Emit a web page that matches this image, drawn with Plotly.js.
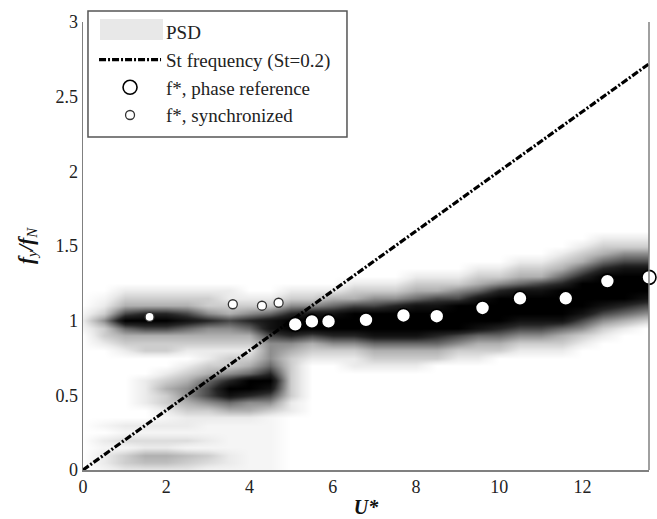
<!DOCTYPE html>
<html>
<head>
<meta charset="utf-8">
<script src="https://cdn.plot.ly/plotly-3.0.1.min.js"></script>
<style>html,body{margin:0;padding:0;background:#fff;}#chart{width:657px;height:519px;}</style>
</head>
<body>
<div id="chart"></div>
<script>
// PSD grid (U* columns, fy/fN rows), intensity 0 (none) .. 9 (max)
const psdU = [0,0.5,1,1.5,2,2.5,3,3.5,4,4.5,5,5.5,6,6.5,7,7.5,8,8.5,9,9.5,10,10.5,11,11.5,12,12.5,13,13.5];
const psdF = [0,0.05,0.1,0.15,0.2,0.25,0.3,0.35,0.4,0.45,0.5,0.55,0.6,0.65,0.7,0.75,0.8,0.85,0.9,0.95,1.0,1.05,1.1,1.15,1.2,1.25,1.3,1.35,1.4,1.45,1.5,1.55,1.6];
const psdZ = [
 [0,0.5,1,1,1,1,0.5,0.5,0.5,0.5, 0,0,0,0,0,0,0,0,0,0, 0,0,0,0,0,0,0,0],
 [0,1,2,2.5,2.5,2,1.5,1,0.5,0.5, 0,0,0,0,0,0,0,0,0,0, 0,0,0,0,0,0,0,0],
 [0,1,2,3,3,2.5,2,1,0.5,0.5, 0,0,0,0,0,0,0,0,0,0, 0,0,0,0,0,0,0,0],
 [0,0.5,0.5,1,1,0.5,0.5,0.5,0.5,0.5, 0,0,0,0,0,0,0,0,0,0, 0,0,0,0,0,0,0,0],
 [0,1,1.5,1.5,1.5,1.5,1,0.5,0.5,0.5, 0,0,0,0,0,0,0,0,0,0, 0,0,0,0,0,0,0,0],
 [0,0,0.5,0.5,0.5,0.5,0.5,0.5,0.5,0.5, 0,0,0,0,0,0,0,0,0,0, 0,0,0,0,0,0,0,0],
 [0,0.5,1,1,1,1,0.5,0.5,0.5,0.5, 0,0,0,0,0,0,0,0,0,0, 0,0,0,0,0,0,0,0],
 [0,0,0,0,0.5,1,1,1,1,0.5, 0,0,0,0,0,0,0,0,0,0, 0,0,0,0,0,0,0,0],
 [0,0,0,0,1,2,2,3,3,2, 1,0,0,0,0,0,0,0,0,0, 0,0,0,0,0,0,0,0],
 [0,0,0,1,2,3,4,5,4,4, 1,0,0,0,0,0,0,0,0,0, 0,0,0,0,0,0,0,0],
 [0,0,0,1,2,4,6,8,7,6, 2,0,0,0,0,0,0,0,0,0, 0,0,0,0,0,0,0,0],
 [0,0,0,1,3,4,6,9,9,8, 2,0,0,0,0,0,0,0,0,0, 0,0,0,0,0,0,0,0],
 [0,0,0,1,2,3,5,7,9,9, 2,0,0,0,0,0,0,0,0,0, 0,0,0,0,0,0,0,0],
 [0,0,0,0,1,2,3,4,5,7, 2,0,0,0,0,0,0,0,0,0, 0,0,0,0,0,0,0,0],
 [0,0,0,0,0,1,2,2,3,5, 2,0,0,1,1,1,1,0,0,0, 0,0,0,0,0,0,0,0],
 [0,0,0,0,0,0,1,2,2,4, 2,1,1,1,2,2,2,2,1,1, 0,0,0,0,0,0,0,0],
 [0,0,1,2,2,1,1,1,1,4, 3,2,2,2,3,3,3,3,2,2, 2,1,1,1,0,0,0,0],
 [0,1,2,2,2,2,2,2,2,4, 4,3,4,4,5,5,5,5,4,3, 3,2,2,2,1,0,0,0],
 [0,2,3,3,3,3,3,3,3,6, 7,6,7,7,8,8,8,7,6,5, 5,4,4,3,2,1,0,0],
 [0.5,2,5,6,6,5,4,4,5,8, 9,9,9,9,9,9,9,9,9,8, 7,6,6,5,4,2,1,0],
 [1,4,9,9,9,8,7,6,7,8, 9,9,9,9,9,9,9,9,9,9, 9,8,8,8,6,4,3,2],
 [0.5,2,6,7,7,6,4,3,4,5, 7,8,8,9,9,9,9,9,9,9, 9,9,9,9,8,6,5,4],
 [0,1,3,3,3,3,2,2,2,2, 4,4,5,6,6,7,8,8,9,9, 9,9,9,9,9,8,7,6],
 [0,0.5,2,2,2,2,2,1,1,1, 2,2,3,3,4,4,5,6,6,8, 9,9,9,9,9,9,9,8],
 [0,0,1,1,1,1,1,1,0,0, 1,1,1,2,2,2,3,3,4,5, 7,8,8,9,9,9,9,9],
 [0,0,0,0,0,0,0,0,0,0, 0,0,0,1,1,1,2,2,2,3, 4,5,6,7,9,9,9,9],
 [0,0,0,0,0,0,0,0,0,0, 0,0,0,0,0,0,1,1,1,2, 2,3,3,5,7,9,9,9],
 [0,0,0,0,0,0,0,0,0,0, 0,0,0,0,0,0,0,0,0,1, 1,2,2,3,5,7,8,8],
 [0,0,0,0,0,0,0,0,0,0, 0,0,0,0,0,0,0,0,0,0, 0,1,1,2,3,5,6,6],
 [0,0,0,0,0,0,0,0,0,0, 0,0,0,0,0,0,0,0,0,0, 0,0,0,1,2,3,4,4],
 [0,0,0,0,0,0,0,0,0,0, 0,0,0,0,0,0,0,0,0,0, 0,0,0,0,1,2,2,2],
 [0,0,0,0,0,0,0,0,0,0, 0,0,0,0,0,0,0,0,0,0, 0,0,0,0,0,1,1,1],
 [0,0,0,0,0,0,0,0,0,0, 0,0,0,0,0,0,0,0,0,0, 0,0,0,0,0,0,0,0]
];
// Strouhal line
const stU = [0, 13.6];
const stF = [0, 2.72];
// f*, phase reference
const refU = [5.1, 5.5, 5.9, 6.8, 7.7, 8.5, 9.6, 10.5, 11.6, 12.6, 13.6];
const refF = [0.975, 0.995, 0.995, 1.005, 1.035, 1.03, 1.085, 1.15, 1.15, 1.265, 1.29];
// f*, synchronized
const syncU = [1.6, 3.6, 4.3, 4.7];
const syncF = [1.025, 1.11, 1.10, 1.12];

const serif = '"Liberation Serif", "Times New Roman", serif';

const traces = [
  {type:'heatmap', x: psdU, y: psdF, z: psdZ, zsmooth:'best', zmin:0, zmax:9,
   colorscale:[[0,'#ffffff'],[0.111,'#ebebeb'],[0.333,'#b0b0b0'],[0.556,'#6a6a6a'],[0.778,'#252525'],[1,'#000000']],
   showscale:false, hoverinfo:'skip', showlegend:false},
  {type:'scatter', mode:'lines', x:[null], y:[null], name:'PSD',
   line:{color:'rgba(0,0,0,0)', width:1}},
  {type:'scatter', mode:'lines', x: stU, y: stF, name:'St frequency (St=0.2)',
   line:{color:'#000000', width:3.2, dash:'7px,2px,2px,2px'}},
  {type:'scatter', mode:'markers', x: refU, y: refF, name:'f*, phase reference', cliponaxis:false,
   marker:{size:14, color:'#ffffff', line:{color:'#000000', width:1.6}}},
  {type:'scatter', mode:'markers', x: syncU, y: syncF, name:'f*, synchronized', cliponaxis:false,
   marker:{size:9, color:'#ffffff', line:{color:'#333333', width:1.3}}}
];

const layout = {
  width:657, height:519,
  margin:{l:83, r:8, t:22, b:49},
  paper_bgcolor:'#ffffff', plot_bgcolor:'#ffffff',
  font:{family: serif, size:18, color:'#222'},
  xaxis:{range:[0,13.6], tickvals:[0,2,4,6,8,10,12], ticktext:['0','2','4','6','8','10','12'],
         showgrid:false, zeroline:false, showline:true, linecolor:'#808080', linewidth:1.5, ticks:'',
         tickfont:{family:serif, size:18, color:'#222'},
         title:{text:'<b><i>U*</i></b>', font:{family:serif, size:20, color:'#111'}, standoff:4}},
  yaxis:{range:[0,3], tickvals:[0,0.5,1,1.5,2,2.5,3], ticktext:['0','0.5','1','1.5','2','2.5','3'],
         showgrid:false, zeroline:false, showline:true, linecolor:'#808080', linewidth:1.5, ticks:'',
         tickfont:{family:serif, size:18, color:'#222'},
         title:{text:'<b><i>f</i></b><sub><i>y</i></sub><b><i>/f</i></b><sub><i>N</i></sub>', font:{family:serif, size:21, color:'#111'}, standoff:16}},
  shapes:[
    {type:'line', xref:'paper', yref:'paper', x0:1, x1:1, y0:0, y1:1, line:{color:'#808080', width:1.5}},
    {type:'rect', xref:'paper', yref:'paper', x0:0.0088, x1:0.4664, y0:0.7433, y1:1.0246, line:{color:'#555555', width:1.5}, fillcolor:'rgba(0,0,0,0)', layer:'above'},
    {type:'rect', xref:'paper', yref:'paper', x0:0.030, x1:0.1413, y0:0.9598, y1:1.0067, line:{width:0}, fillcolor:'#e8e8e8', layer:'above'}
  ],
  legend:{x:0.0195, y:1.02, xanchor:'left', yanchor:'top', bgcolor:'rgba(0,0,0,0)', borderwidth:0,
          font:{family:serif, size:19, color:'#222'}, itemwidth:62, traceorder:'normal'},
  showlegend:true
};

Plotly.newPlot('chart', traces, layout, {displayModeBar:false, staticPlot:true});
</script>
</body>
</html>
